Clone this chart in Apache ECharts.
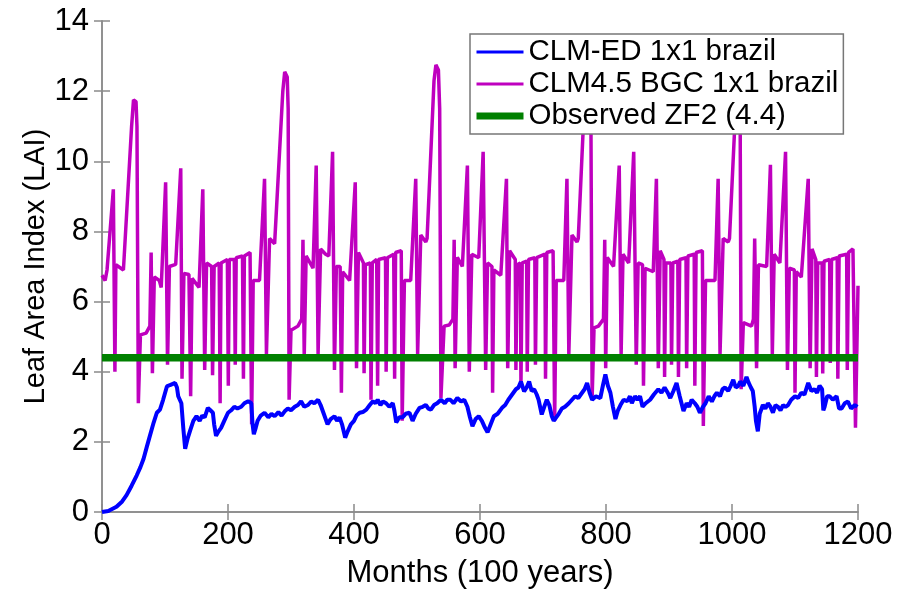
<!DOCTYPE html>
<html>
<head>
<meta charset="utf-8">
<script src="https://cdn.jsdelivr.net/npm/echarts@6/dist/echarts.min.js"></script>
<style>
  html, body { margin: 0; padding: 0; background: #fff; }
  #chart { width: 898px; height: 594px; }
</style>
</head>
<body>
<div id="chart"></div>
<script>
// lai_chart.js

let x_ticks = [0, 1200, 200];   // min, max, step (months)
let y_ticks = [0, 14, 2];       // min, max, step (LAI)

let observed_zf2_lai = 4.4;

// CLM4.5 BGC, [month, LAI], one array per 20-year forcing cycle
let bgc_cycle_1 = [[0,6.75],[5,6.6],[8,6.9],[18,9.2],[20.5,4.0],[22,7.05],[34,6.9],[47,11.0],[50,11.75],[54,11.7],[55.5,11.0],[57.7,3.1],[61,5.05],[70,5.1],[76,5.3],[78,7.4],[80,3.96],[83,6.7],[91,6.6],[94,6.4],[101,9.4],[104,4.2],[107,7.0],[117,7.06],[125,9.8],[127,3.8],[130,6.8],[138,6.77],[140.7,3.3],[143,6.66],[154,6.4],[160,9.2],[163,4.05],[166,7.1],[174,7.0],[175.5,3.9],[178,7.0],[186,7.1],[187.5,3.1],[189,7.1],[199,7.2],[200.5,3.6],[202,7.2],[210,7.2],[211.5,4.2],[213,7.25],[223,7.3],[224.5,3.8],[226,7.3],[235,7.4],[237.5,2.5]];
let bgc_cycle_2 = [[240,6.6],[250,6.6],[258,9.5],[261,4.5],[266,7.8],[274,7.65],[276,7.7],[287,12.0],[290,12.55],[294,12.4],[295.5,11.5],[297,3.2],[300,5.18],[311,5.3],[317,5.5],[319,7.76],[321,4.45],[324,7.3],[335,6.95],[340,9.88],[343,4.5],[347,7.5],[355,7.35],[360,7.3],[366,10.27],[369,4.05],[372,7.0],[378,7.0],[380,3.4],[382,6.85],[393,6.6],[402,9.4],[404,4.1],[407,7.4],[415,7.1],[416,3.96],[418,7.05],[426,7.1],[427,3.2],[429,7.1],[436,7.2],[437.5,3.6],[439,7.2],[450,7.25],[451,4.0],[453,7.25],[463,7.35],[464.5,3.8],[466,7.4],[475,7.45],[476.5,2.6]];
let bgc_cycle_3 = [[480,6.6],[490,6.6],[498,9.5],[501,4.5],[506,7.9],[514,7.7],[516,7.8],[527,12.3],[530,12.75],[534,12.6],[536,11.5],[538,3.25],[543,5.3],[551,5.33],[557,5.5],[559,7.76],[560.5,4.1],[564,7.26],[572,7.0],[580,9.88],[583,4.0],[587,7.35],[598,7.25],[605,10.27],[609,4.05],[612,7.1],[619,7.0],[620,3.4],[622,6.9],[633,6.75],[642,9.5],[644,4.1],[647,7.45],[656,7.2],[657,4.05],[659,7.05],[664,7.1],[665,3.6],[667,7.1],[674,7.15],[675,4.0],[677,7.2],[687,7.25],[688,4.2],[690,7.25],[703,7.35],[704,3.8],[706,7.4],[716,7.45],[718.5,2.6]];
let bgc_cycle_4 = [[721,6.6],[733,6.6],[738,9.5],[741,4.5],[746,7.9],[754,7.7],[756,7.8],[767,12.2],[770,12.6],[774,12.5],[776,11.5],[778,3.25],[781,5.25],[788,5.3],[796,5.5],[798,7.76],[799.5,4.1],[802,7.26],[812,7.0],[821,9.88],[824,4.5],[827,7.35],[836,7.1],[844,10.27],[848,4.2],[851,7.1],[858,7.05],[859.5,3.6],[862,6.95],[875,6.85],[880,9.5],[883,4.1],[886,7.45],[892,7.2],[893,3.85],[895,7.1],[903,7.1],[904,4.2],[906,7.1],[914,7.15],[915,3.85],[917,7.2],[927,7.25],[928,4.1],[930,7.3],[940,7.35],[941,3.6],[943,7.4],[953,7.45],[954.5,2.45],[958,6.6]];
let bgc_cycle_5 = [[960,6.6],[973,6.6],[978,9.5],[981,4.5],[986,7.8],[994,7.7],[996,7.8],[1007,12.0],[1010,12.3],[1012,12.2],[1013,11.0],[1014.5,3.5],[1018,5.4],[1031,5.3],[1034,5.5],[1036,7.8],[1039,4.1],[1042,7.05],[1055,7.0],[1061,9.9],[1064,4.5],[1067,7.35],[1076,7.1],[1085,10.27],[1088,4.05],[1091,6.95],[1099,6.9],[1100,3.4],[1102,6.85],[1110,6.7],[1121,9.5],[1124,4.1],[1127,7.5],[1133,7.2],[1134,3.85],[1136,7.1],[1143,7.1],[1144,3.95],[1146,7.15],[1155,7.2],[1156,4.25],[1158,7.2],[1167,7.25],[1168,3.8],[1170,7.3],[1182,7.35],[1183,4.05],[1185,7.4],[1192,7.5],[1196,2.4],[1200,6.45]];

// CLM-ED, [month, LAI]
let ed_part_1 = [[0,0],[10,0.03],[23,0.15],[32,0.3],[39,0.48],[47,0.75],[55,1.04],[61,1.28],[66,1.52],[71,1.85],[76,2.17],[82,2.55],[87,2.83],[92,2.92],[97,3.2],[103,3.58],[108,3.62],[111,3.6],[116,3.68],[119,3.55],[121,3.3],[124,3.25],[126,3.1],[129,2.4],[132,1.8],[136,2.1],[140,2.33],[145,2.6],[150,2.73],[155,2.6],[159,2.75],[163,2.7],[166,2.65],[168,2.97],[172,2.9],[176,2.83],[178,2.5],[181,2.17],[185,2.3],[189,2.4],[194,2.6],[200,2.83],[205,2.9],[210,3.0],[215,2.95],[221,3.0],[226,3.1],[232,3.16],[237,3.1],[239,2.5]];
let ed_part_2 = [[241,2.22],[244,2.4],[247,2.6],[252,2.75],[258,2.83],[264,2.7],[269,2.8],[274,2.73],[280,2.85],[285,2.75],[290,2.87],[295,2.95],[300,2.9],[306,3.0],[311,3.05],[316,3.16],[321,3.0],[327,3.05],[332,3.15],[337,3.1],[343,3.2],[347,3.05],[352,2.8],[358,2.5],[363,2.65],[369,2.73],[373,2.6],[377,2.7],[381,2.5],[386,2.12],[390,2.3],[395,2.5],[400,2.6],[404,2.75],[409,2.83],[414,2.85],[419.5,2.92],[425,3.05],[430,3.16],[434,3.1],[437.6,3.2],[442,3.05],[446,3.15],[451,3.1],[456,3.0],[461.5,3.1],[464,2.9],[467,2.55],[472,2.7],[477,2.7]];
let ed_part_3 = [[482,2.8],[488,2.83],[493,2.6],[498,2.8],[504,2.97],[509,3.0],[514,3.05],[518,2.95],[522,2.92],[527,3.05],[532,3.1],[538,3.2],[544,3.1],[548,3.2],[553,3.2],[558,3.1],[564,3.25],[570,3.15],[575,3.2],[580,3.0],[584,2.7],[588,2.45],[593,2.65],[598,2.73],[603,2.6],[608,2.4],[612,2.27],[617,2.5],[622,2.73],[628,2.8],[635,2.97],[640,3.05],[645,3.2],[649,3.3],[653,3.4],[657,3.5],[661,3.55],[665,3.72],[670,3.44],[674,3.55],[678,3.72],[682,3.45],[686,3.5],[690,3.35],[693,3.2],[698,2.78],[702,3.0],[706,3.2],[710,3.05],[714,2.73],[717,2.6]];
let ed_part_4 = [[720,2.55],[725,2.8],[730,2.95],[735,3.0],[741,3.1],[746,3.2],[751,3.3],[756,3.25],[762,3.4],[766,3.5],[770,3.68],[774,3.4],[778,3.2],[784,3.3],[791,3.25],[795,3.6],[799,3.92],[803,3.6],[807,3.4],[811,3.0],[815,2.65],[819,2.9],[823,3.05],[828,3.2],[834,3.16],[838,3.3],[841,3.1],[846,3.3],[850,3.2],[854,3.3],[858,3.0],[863,3.1],[870,3.2],[876,3.35],[883,3.5],[888,3.4],[893,3.55],[898,3.4],[902,3.25],[907,3.45],[912,3.68],[917,3.3],[923,2.88],[928,3.1],[932,3.0],[936,3.2],[941,3.1],[945,3.0],[949,2.83],[954,3.0],[958,3.1]];
let ed_part_5 = [[963,3.3],[968,3.15],[972,3.3],[976,3.4],[981,3.3],[985,3.5],[989,3.55],[994,3.45],[998,3.6],[1002,3.77],[1006,3.55],[1010,3.6],[1013,3.72],[1018,3.6],[1023,3.85],[1026,3.7],[1030,3.55],[1033,3.45],[1036,3.0],[1038,2.6],[1041,2.3],[1044,2.8],[1049,3.05],[1053,2.95],[1057,3.1],[1061,3.0],[1065,2.83],[1069,3.05],[1073,3.0],[1077,2.9],[1081,3.05],[1085,3.0],[1089,3.05],[1094,3.2],[1100,3.3],[1105,3.25],[1110,3.4],[1115,3.35],[1121,3.68],[1126,3.45],[1131,3.5],[1135,3.4],[1139,3.6],[1143,3.5],[1145,2.9],[1147,3.0],[1151,3.3],[1155,3.3],[1160,3.2],[1166,3.3],[1170,2.95],[1174,2.95],[1179,3.1],[1184,3.15],[1189,2.95],[1195,3.05],[1199,3.0]];

let bgc_lai = [].concat(bgc_cycle_1, bgc_cycle_2, bgc_cycle_3, bgc_cycle_4, bgc_cycle_5);
let ed_lai = [].concat(ed_part_1, ed_part_2, ed_part_3, ed_part_4, ed_part_5);
let observed_line = [[x_ticks[0], observed_zf2_lai], [x_ticks[1], observed_zf2_lai]];

let font_name = "Liberation Sans, Arial, Helvetica, sans-serif";
let box_color = "#8a8a8a";

let ed_color = "#0000ff";
let bgc_color = "#bf00bf";
let obs_color = "#008000";

function make_x_axis(pos, show_labels) {
    return {
        type: "value", position: pos,
        min: x_ticks[0], max: x_ticks[1], interval: x_ticks[2],
        axisLine: { show: true, lineStyle: { color: box_color, width: 1.5 } },
        axisTick: { show: true, inside: true, length: 8, lineStyle: { color: box_color, width: 1.5 } },
        axisLabel: { show: show_labels, color: "#000", fontSize: 31, fontFamily: font_name, margin: 8,
                     formatter: function (v) { return String(v); } },
        splitLine: { show: false }
    };
}

function make_y_axis(pos, show_labels) {
    return {
        type: "value", position: pos,
        min: y_ticks[0], max: y_ticks[1], interval: y_ticks[2],
        axisLine: { show: true, lineStyle: { color: box_color, width: 1.5 } },
        axisTick: { show: true, inside: true, length: 8, lineStyle: { color: box_color, width: 1.5 } },
        axisLabel: { show: show_labels, color: "#000", fontSize: 31, fontFamily: font_name, margin: 13 },
        splitLine: { show: false }
    };
}

let chart = echarts.init(document.getElementById("chart"));

let x_bottom = make_x_axis("bottom", true);
x_bottom.name = "Months (100 years)";
x_bottom.nameLocation = "middle";
x_bottom.nameGap = 46;
x_bottom.nameTextStyle = { color: "#000", fontSize: 31, fontFamily: font_name };

let y_left = make_y_axis("left", true);
y_left.name = "Leaf Area Index (LAI)";
y_left.nameLocation = "middle";
y_left.nameGap = 52;
y_left.nameMoveOverlap = false;
y_left.nameTextStyle = { color: "#000", fontSize: 29, fontFamily: font_name };

chart.setOption({
    animation: false,
    backgroundColor: "#fff",
    grid: { left: 102, right: 40, top: 21, bottom: 77, containLabel: false },
    xAxis: [x_bottom, make_x_axis("top", false)],
    yAxis: [y_left, make_y_axis("right", false)],
    legend: {
        orient: "vertical",
        left: 470, top: 34,
        backgroundColor: "#fff",
        borderColor: "#777", borderWidth: 1.5,
        padding: [3, 5, 3, 3],
        itemGap: 2, itemWidth: 47, itemHeight: 14,
        itemStyle: { opacity: 0 },
        textStyle: { color: "#000", fontSize: 29.5, lineHeight: 28, fontFamily: font_name },
        data: [
            { name: "CLM-ED 1x1 brazil", lineStyle: { color: ed_color, width: 3 } },
            { name: "CLM4.5 BGC 1x1 brazil", lineStyle: { color: bgc_color, width: 3 } },
            { name: "Observed ZF2 (4.4)", lineStyle: { color: obs_color, width: 7 } }
        ]
    },
    series: [
        {
            name: "CLM-ED 1x1 brazil", type: "line", data: ed_lai,
            symbol: "none", lineStyle: { color: ed_color, width: 4 }, itemStyle: { color: ed_color }, z: 3
        },
        {
            name: "CLM4.5 BGC 1x1 brazil", type: "line", data: bgc_lai,
            symbol: "none", lineStyle: { color: bgc_color, width: 3.5 }, itemStyle: { color: bgc_color }, z: 2
        },
        {
            name: "Observed ZF2 (4.4)", type: "line", data: observed_line,
            symbol: "none", lineStyle: { color: obs_color, width: 7.5 }, itemStyle: { color: obs_color }, z: 4
        }
    ]
});
</script>
</body>
</html>
